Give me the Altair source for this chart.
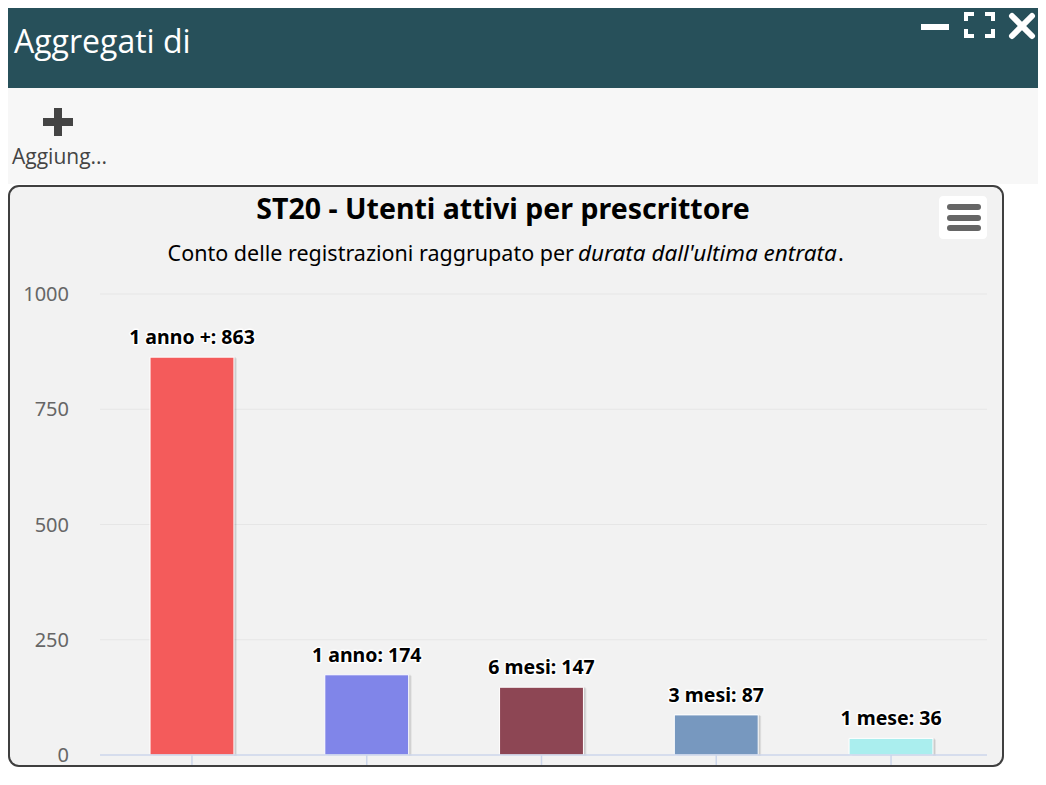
import altair as alt
import pandas as pd

# ---- data ----
categories = ["1 anno +", "1 anno", "6 mesi", "3 mesi", "1 mese"]
values = [863, 174, 147, 87, 36]
colors = ["#f45b5b", "#8085e9", "#8d4654", "#7798bf", "#aaeeee"]
y_ticks = [0, 250, 500, 750, 1000]

title_text = "ST20 - Utenti attivi per prescrittore"
subtitle_plain = "Conto delle registrazioni raggrupato per "
subtitle_italic = "durata dall'ultima entrata"
header_text = "Aggregati di"
toolbar_text = "Aggiung..."

FONT = "Noto Sans"
UI_FONT = "Open Sans"

bars_df = pd.DataFrame({"cat": categories, "val": values})
bars_df["label"] = [f"{c}: {v}" for c, v in zip(categories, values)]
ticks_df = pd.DataFrame({"v": y_ticks})
one = pd.DataFrame({"_": [0]})

xscale = alt.Scale(domain=categories, range=[96.6, 970.4], paddingInner=0.52, paddingOuter=0.26)
yscale = alt.Scale(domain=[0, 1000], range=[747, 286], nice=False, zero=True)
X = alt.X("cat:N", sort=categories, scale=xscale, axis=None)


def rect(x1, y1, x2, y2, **kw):
    return alt.Chart(one).mark_rect(**kw).encode(
        x=alt.value(x1), x2=alt.value(x2), y=alt.value(y1), y2=alt.value(y2))


def seg(x1, y1, x2, y2, **kw):
    return alt.Chart(one).mark_rule(**kw).encode(
        x=alt.value(x1), x2=alt.value(x2), y=alt.value(y1), y2=alt.value(y2))


def txt(x, y, s, **kw):
    return alt.Chart(one).mark_text(text=s, **kw).encode(x=alt.value(x), y=alt.value(y))


layers = []
# window chrome
layers.append(rect(0, 0, 1030, 80, color="#27505a"))
layers.append(rect(0, 80, 1030, 176, color="#f7f7f7"))
layers.append(txt(6, 45, header_text, font=UI_FONT, fontSize=32, color="white", align="left", baseline="alphabetic"))
# minimize
layers.append(rect(913, 16, 941, 22, color="white"))
# maximize corners
W = "white"
for (a, b, c, d) in [
    (956, 4, 966, 8), (956, 4, 960, 13),
    (977, 4, 987, 8), (983, 4, 987, 13),
    (956, 26, 966, 30), (956, 21, 960, 30),
    (977, 26, 987, 30), (983, 21, 987, 30),
]:
    layers.append(rect(a, b, c, d, color=W))
# close
layers.append(seg(1004, 8, 1024, 28, color="white", strokeWidth=6, strokeCap="round"))
layers.append(seg(1024, 8, 1004, 28, color="white", strokeWidth=6, strokeCap="round"))
# toolbar "+"
layers.append(rect(35, 110, 65, 118, color="#444444"))
layers.append(rect(46, 100, 54, 128, color="#444444"))
layers.append(txt(4, 156, toolbar_text, font=UI_FONT, fontSize=21, color="#444444", align="left", baseline="alphabetic"))

# chart panel
layers.append(rect(1, 178, 995, 758, fill="#f2f2f2", stroke="#3f3f3f", strokeWidth=2, cornerRadius=10))
# hamburger menu
layers.append(rect(931, 188, 979, 231, color="white", cornerRadius=4))
for yy in [199, 210, 220]:
    layers.append(seg(942, yy, 970, yy, color="#666666", strokeWidth=6, strokeCap="round"))

# titles
layers.append(txt(495, 211, title_text, font=FONT, fontSize=28.5, fontWeight="bold", color="black", align="center", baseline="alphabetic"))
layers.append(txt(566, 253, subtitle_plain, font=FONT, fontSize=21.5, color="black", align="right", baseline="alphabetic"))
layers.append(txt(570, 253, subtitle_italic, font=FONT, fontSize=22.5, fontStyle="italic", color="black", align="left", baseline="alphabetic"))
layers.append(txt(830, 253, ".", font=FONT, fontSize=21.5, color="black", align="left", baseline="alphabetic"))

# gridlines and y labels
Yt = alt.Y("v:Q", scale=yscale, axis=None)
layers.append(alt.Chart(ticks_df).transform_filter("datum.v > 0").mark_rule(color="#e6e6e6", strokeWidth=1).encode(
    y=Yt, x=alt.value(92), x2=alt.value(979)))
layers.append(alt.Chart(ticks_df).mark_text(font=FONT, fontSize=20, color="#666666", align="right", baseline="middle", dy=1).encode(
    y=Yt, x=alt.value(61), text=alt.Text("v:Q")))

# bar shadows
Yv = alt.Y("val:Q", scale=yscale, axis=None)
layers.append(alt.Chart(bars_df).mark_bar(color="#000000", opacity=0.07, xOffset=3, yOffset=1).encode(x=X, y=Yv))
layers.append(alt.Chart(bars_df).mark_bar(color="#000000", opacity=0.09, xOffset=2, yOffset=0).encode(x=X, y=Yv))
# bars
layers.append(alt.Chart(bars_df).mark_bar(stroke="white", strokeWidth=1).encode(
    x=X, y=Yv,
    color=alt.Color("cat:N", scale=alt.Scale(domain=categories, range=colors), legend=None)))

# x axis line and ticks
layers.append(alt.Chart(ticks_df).transform_filter("datum.v == 0").mark_rule(color="#ccd6eb", strokeWidth=1.5).encode(
    y=Yt, x=alt.value(92), x2=alt.value(979)))
layers.append(alt.Chart(bars_df).mark_rule(color="#ccd6eb", strokeWidth=1.5).encode(
    x=X, y=alt.value(747), y2=alt.value(757)))

# data labels (white outline under black text)
layers.append(alt.Chart(bars_df).mark_text(font=FONT, fontSize=19.5, fontWeight="bold", dy=-13, baseline="alphabetic",
                                           color="white", stroke="white", strokeWidth=3, strokeJoin="round").encode(
    x=X, y=Yv, text="label:N"))
layers.append(alt.Chart(bars_df).mark_text(font=FONT, fontSize=19.5, fontWeight="bold", dy=-13, baseline="alphabetic",
                                           color="black").encode(
    x=X, y=Yv, text="label:N"))

chart = alt.layer(*layers).properties(
    width=1030, height=760, padding=0, autosize="none", background="white"
).configure_view(stroke=None)

chart.save("out.html", embed_options={"renderer": "svg", "actions": False})
